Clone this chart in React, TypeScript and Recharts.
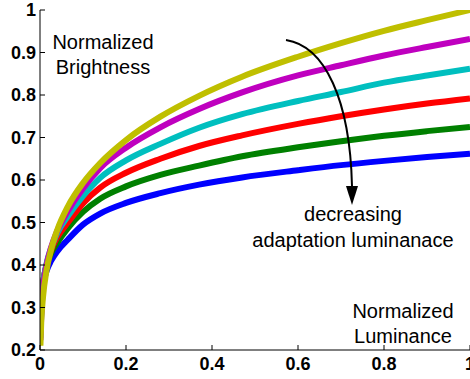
import React from "react";
import { LineChart, Line, XAxis, YAxis } from "recharts";

const xValues = [0.001, 0.003, 0.007, 0.015, 0.026, 0.04, 0.065, 0.1, 0.14, 0.2, 0.28, 0.37, 0.47, 0.6, 0.7, 0.8, 0.9, 1.0];
const blueValues = [0.25, 0.305, 0.35, 0.385, 0.41, 0.432, 0.46, 0.495, 0.521, 0.546, 0.569, 0.589, 0.606, 0.623, 0.635, 0.645, 0.654, 0.662];
const greenValues = [0.24, 0.3, 0.355, 0.398, 0.428, 0.452, 0.487, 0.525, 0.556, 0.585, 0.612, 0.634, 0.656, 0.677, 0.691, 0.704, 0.715, 0.725];
const redValues = [0.236, 0.297, 0.352, 0.4, 0.435, 0.465, 0.5, 0.545, 0.582, 0.617, 0.65, 0.68, 0.705, 0.732, 0.75, 0.766, 0.78, 0.792];
const cyanValues = [0.228, 0.29, 0.35, 0.402, 0.44, 0.475, 0.515, 0.562, 0.605, 0.646, 0.685, 0.723, 0.755, 0.786, 0.807, 0.829, 0.846, 0.862];
const magentaValues = [0.223, 0.285, 0.343, 0.398, 0.442, 0.48, 0.527, 0.58, 0.628, 0.676, 0.724, 0.767, 0.806, 0.846, 0.87, 0.893, 0.913, 0.932];
const yellowValues = [0.21, 0.268, 0.324, 0.386, 0.437, 0.482, 0.538, 0.593, 0.64, 0.694, 0.749, 0.798, 0.843, 0.89, 0.922, 0.951, 0.976, 1.0];

const xTicks = [0, 0.2, 0.4, 0.6, 0.8, 1];
const yTicks = [0.2, 0.3, 0.4, 0.5, 0.6, 0.7, 0.8, 0.9, 1];

const series = [
  { key: "blue", color: "#0000FF", values: blueValues },
  { key: "green", color: "#008000", values: greenValues },
  { key: "red", color: "#FF0000", values: redValues },
  { key: "cyan", color: "#00BFBF", values: cyanValues },
  { key: "magenta", color: "#BF00BF", values: magentaValues },
  { key: "yellow", color: "#BFBF00", values: yellowValues },
];

const data = xValues.map((x, i) => {
  const row: Record<string, number> = { x };
  series.forEach((s) => {
    row[s.key] = s.values[i];
  });
  return row;
});

const FONT = "'Liberation Sans', Arial, sans-serif";
const fmt = (v: number) => (v === 0 ? "0" : v === 1 ? "1" : String(v));

const BottomTick = (props: any) => {
  const { x, y, payload } = props;
  return (
    <g>
      <line x1={x} y1={y} x2={x} y2={y - 5} stroke="#000" strokeWidth={1} />
      <text x={x} y={y + 20} textAnchor="middle" fontWeight="bold" fontSize={18} fontFamily={FONT} fill="#000">
        {fmt(payload.value)}
      </text>
    </g>
  );
};

const LeftTick = (props: any) => {
  const { x, y, payload } = props;
  return (
    <g>
      <line x1={x} y1={y} x2={x + 5} y2={y} stroke="#000" strokeWidth={1} />
      <text x={x - 4} y={y + 6} textAnchor="end" fontWeight="bold" fontSize={18} fontFamily={FONT} fill="#000">
        {fmt(payload.value)}
      </text>
    </g>
  );
};

const TopTick = (props: any) => {
  const { x, y } = props;
  return <line x1={x} y1={y} x2={x} y2={y + 5} stroke="#000" strokeWidth={1} />;
};

const RightTick = (props: any) => {
  const { x, y } = props;
  return <line x1={x} y1={y} x2={x - 5} y2={y} stroke="#000" strokeWidth={1} />;
};

export default function App() {
  return (
    <div style={{ position: "absolute", left: 0, top: 0, width: 470, height: 379, background: "#fff" }}>
      <LineChart width={470} height={379} data={data} margin={{ top: 10, right: 0, bottom: 0, left: 0 }}>
        <XAxis
          dataKey="x"
          type="number"
          domain={[0, 1]}
          ticks={xTicks}
          interval={0}
          height={29}
          tickSize={0}
          tickMargin={0}
          tickLine={false}
          tick={<BottomTick />}
          axisLine={{ stroke: "#000", strokeWidth: 1 }}
          allowDataOverflow
        />
        <XAxis
          xAxisId="top"
          orientation="top"
          dataKey="x"
          type="number"
          domain={[0, 1]}
          ticks={xTicks}
          interval={0}
          height={0}
          tickSize={0}
          tickMargin={0}
          tickLine={false}
          tick={<TopTick />}
          axisLine={{ stroke: "#000", strokeWidth: 1 }}
          allowDataOverflow
        />
        <YAxis
          type="number"
          domain={[0.2, 1]}
          ticks={yTicks}
          interval={0}
          width={40}
          tickSize={0}
          tickMargin={0}
          tickLine={false}
          tick={<LeftTick />}
          axisLine={{ stroke: "#000", strokeWidth: 1 }}
          allowDataOverflow
        />
        <YAxis
          yAxisId="right"
          orientation="right"
          type="number"
          domain={[0.2, 1]}
          ticks={yTicks}
          interval={0}
          width={0}
          tickSize={0}
          tickMargin={0}
          tickLine={false}
          tick={<RightTick />}
          axisLine={{ stroke: "#000", strokeWidth: 1 }}
          allowDataOverflow
        />
        {series.map((s) => (
          <Line
            key={s.key}
            dataKey={s.key}
            type="monotone"
            stroke={s.color}
            strokeWidth={6}
            dot={false}
            isAnimationActive={false}
          />
        ))}
      </LineChart>
      <svg
        width={470}
        height={379}
        style={{ position: "absolute", left: 0, top: 0, pointerEvents: "none" }}
      >
        <path d="M286,40 C325,46 350,100 352,186" fill="none" stroke="#000" strokeWidth={2} />
        <path d="M346,186 L358,186 L352,205 Z" fill="#000" />
        <g fontFamily={FONT} fontSize={20} fill="#000">
          <text x={103} y={49} textAnchor="middle">Normalized</text>
          <text x={103} y={74} textAnchor="middle">Brightness</text>
          <text x={353} y={221} textAnchor="middle">decreasing</text>
          <text x={353} y={247} textAnchor="middle">adaptation luminanace</text>
          <text x={403} y={318} textAnchor="middle">Normalized</text>
          <text x={403} y={343} textAnchor="middle">Luminance</text>
        </g>
      </svg>
    </div>
  );
}
